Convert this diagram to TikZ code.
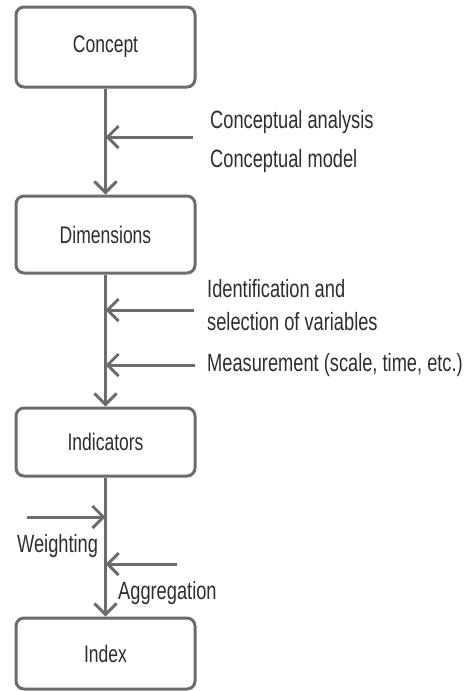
\documentclass[tikz,border=0pt]{standalone}
\usepackage{fontspec}
\setmainfont{Liberation Sans}[FakeStretch=0.73]
\usetikzlibrary{arrows.meta}
\definecolor{linegray}{RGB}{108,108,108}
\definecolor{textgray}{RGB}{45,45,45}
\begin{document}
\begin{tikzpicture}[x=1pt,y=-1pt,
  stage/.style={draw=linegray, line width=3pt, rounded corners=8pt,
    minimum width=179pt, inner sep=0pt, text=textgray,
    font=\fontsize{24}{28}\selectfont},
  flow/.style={draw=linegray, line width=3pt,
    -{Straight Barb[length=11pt,width=22pt]}},
  note/.style={anchor=base west, inner sep=0pt, text=textgray,
    font=\fontsize{25}{29}\selectfont}]
\useasboundingbox (0,0) rectangle (471,691);

% stages of the construction
\node[stage, minimum height=80pt] (concept)    at (105.5,47)    {Concept};
\node[stage, minimum height=77pt] (dimensions) at (105.5,234.5) {Dimensions};
\node[stage, minimum height=68pt] (indicators) at (105.5,442)   {Indicators};
\node[stage, minimum height=71pt] (index)      at (105.5,653.5) {Index};

% main flow
\draw[flow] (concept.south)    -- (dimensions.north);
\draw[flow] (dimensions.south) -- (indicators.north);
\draw[flow] (indicators.south) -- (index.north);

% inputs joining the flow
\coordinate (analysis) at (193,137);
\coordinate (selection) at (194,310);
\coordinate (measure) at (195,365);
\coordinate (weight) at (27,517);
\coordinate (aggr) at (177,564);

\draw[flow] (analysis)  -- (analysis -| concept.south);
\draw[flow] (selection) -- (selection -| dimensions.south);
\draw[flow] (measure)   -- (measure -| dimensions.south);
\draw[flow] (weight)    -- (weight -| indicators.south);
\draw[flow] (aggr)      -- (aggr -| indicators.south);

% labels
\node[note] (t1) at (210,128) {Conceptual analysis};
\node[note] (t2) at (210,167) {Conceptual model};
\node[note] (t3) at (207,297) {Identification and};
\node[note] (t4) at (207,330) {selection of variables};
\node[note] (t5) at (207,371) {Measurement (scale, time, etc.)};
\node[note] (t6) at (17,552)  {Weighting};
\node[note] (t7) at (118,599) {Aggregation};
\end{tikzpicture}
\end{document}
